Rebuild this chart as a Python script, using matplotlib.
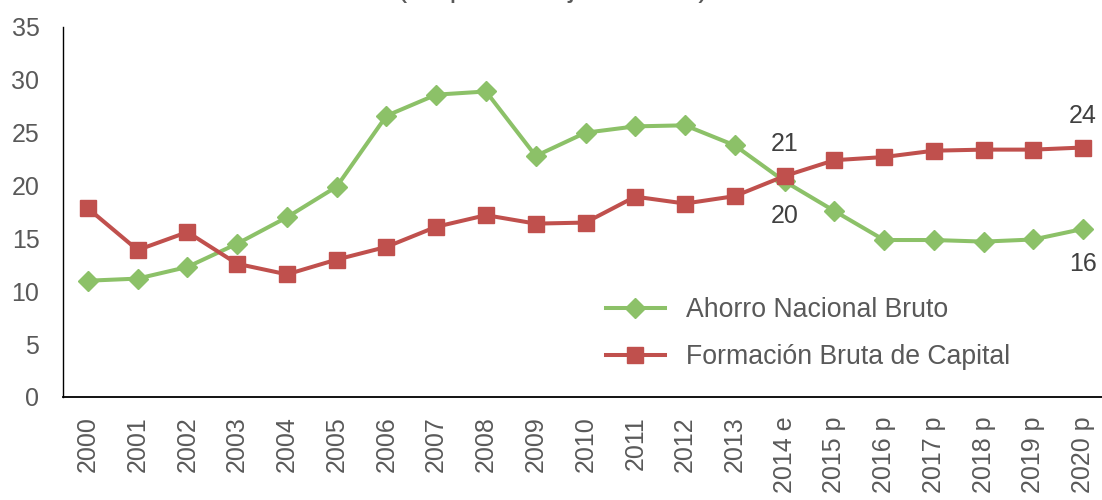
import matplotlib
matplotlib.use("Agg")
import matplotlib.pyplot as plt

plt.rcParams['font.family'] = ['Liberation Sans', 'DejaVu Sans']

# Years (2014 estimated, 2015-2020 projected)
years = ["2000", "2001", "2002", "2003", "2004", "2005", "2006", "2007",
         "2008", "2009", "2010", "2011", "2012", "2013", "2014 e",
         "2015 p", "2016 p", "2017 p", "2018 p", "2019 p", "2020 p"]

# Gross national saving, % of GDP
ahorro = [11.0, 11.2, 12.3, 14.5, 17.0, 19.9, 26.6, 28.6, 28.9, 22.8, 25.0,
          25.6, 25.7, 23.8, 20.4, 17.6, 14.85, 14.85, 14.7, 14.9, 15.9]

# Gross capital formation, % of GDP
formacion = [17.85, 13.9, 15.6, 12.6, 11.6, 13.0, 14.2, 16.1, 17.2, 16.4, 16.5,
             18.95, 18.3, 19.0, 20.9, 22.4, 22.7, 23.3, 23.4, 23.4, 23.6]

yticks = [0, 5, 10, 15, 20, 25, 30, 35]

green = "#8CC168"
red = "#C0504D"
text_gray = "#595959"

fig = plt.figure(figsize=(11.02, 5.0), dpi=100)
ax = fig.add_axes([63 / 1102, 1 - 397 / 500, (1108 - 63) / 1102, 370 / 500])

x = list(range(len(years)))
ax.plot(x, ahorro, color=green, lw=2.9, marker="D", markersize=10,
        label="Ahorro Nacional Bruto", solid_joinstyle="round")
ax.plot(x, formacion, color=red, lw=2.9, marker="s", markersize=11,
        label="Formación Bruta de Capital", solid_joinstyle="round")

ax.set_xlim(-0.5, len(years) - 0.5)
ax.set_ylim(0, 35)
ax.set_yticks(yticks)
ax.set_yticklabels([str(v) for v in yticks])
ax.set_xticks(x)
ax.set_xticklabels(years, rotation=90)

ax.tick_params(axis="y", length=0, pad=17, labelsize=18, labelcolor=text_gray)
ax.tick_params(axis="x", length=0, pad=14, labelsize=18, labelcolor=text_gray)

for side in ("top", "right"):
    ax.spines[side].set_visible(False)
ax.spines["left"].set_color("#000000")
ax.spines["left"].set_linewidth(1.0)
ax.spines["bottom"].set_color("#000000")
ax.spines["bottom"].set_linewidth(1.3)

# Value labels at 2014 and 2020
label_color = "#404040"
for i in (14, 20):
    ax.annotate(f"{formacion[i]:.0f}", (i, formacion[i]), xytext=(0, 23),
                textcoords="offset points", ha="center", va="center",
                fontsize=18, color=label_color)
    ax.annotate(f"{ahorro[i]:.0f}", (i, ahorro[i]), xytext=(0, -25),
                textcoords="offset points", ha="center", va="center",
                fontsize=18, color=label_color)

leg = ax.legend(loc="upper left", bbox_to_anchor=(606 / 1102, 1 - 297 / 500),
                bbox_transform=fig.transFigure, frameon=False, fontsize=19.2,
                handlelength=2.2, handletextpad=0.8, labelspacing=0.8,
                borderpad=0, borderaxespad=0)
for t in leg.get_texts():
    t.set_color(text_gray)

fig.text(553 / 1102, 1 + 4.5 / 500, "(en porcentaje del PIB)", ha="center",
         va="baseline", fontsize=22, color=text_gray)

fig.savefig("out.png", dpi=100)
